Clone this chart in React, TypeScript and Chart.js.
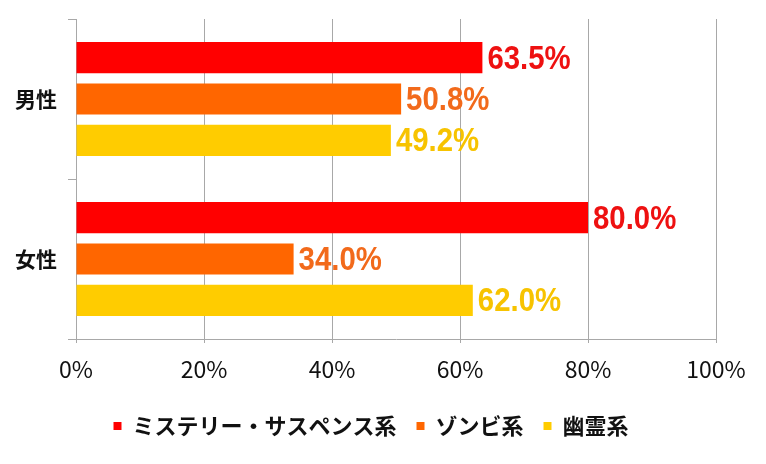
import React, { useEffect, useRef } from "react";
import { Chart, registerables } from "chart.js";
Chart.register(...registerables);

const categories = ["男性", "女性"];
const seriesNames = ["ミステリー・サスペンス系", "ゾンビ系", "幽霊系"];
const mysteryValues = [63.5, 80.0];
const zombieValues = [50.8, 34.0];
const ghostValues = [49.2, 62.0];
const barColors = ["#ff0000", "#ff6600", "#ffcc00"];
const labelColors = ["#ee1111", "#f26a1b", "#f7c300"];
const gridColor = "#a8a8a8";

const valueLabels = {
  id: "valueLabels",
  afterDatasetsDraw(chart: any) {
    const ctx = chart.ctx;
    const sx = 0.89;
    chart.data.datasets.forEach((ds: any, i: number) => {
      const meta = chart.getDatasetMeta(i);
      meta.data.forEach((bar: any, j: number) => {
        const v = ds.data[j] as number;
        ctx.save();
        ctx.font = "bold 33px 'Liberation Sans', Arial, sans-serif";
        ctx.fillStyle = labelColors[i];
        ctx.textAlign = "left";
        ctx.textBaseline = "middle";
        ctx.translate(bar.x + 5, bar.y + 2);
        ctx.scale(sx, 1);
        ctx.fillText(v.toFixed(1) + "%", 0, 0);
        ctx.restore();
      });
    });
  },
};

const legendShift = {
  id: "legendShift",
  afterLayout(chart: any) {
    const lg = chart.legend;
    if (lg) {
      lg.left += 13;
      lg.right += 13;
    }
  },
};

export default function App() {
  const ref = useRef<HTMLCanvasElement>(null);
  useEffect(() => {
    if (!ref.current) return;
    const seriesValues = [mysteryValues, zombieValues, ghostValues];
    const chart = new Chart(ref.current, {
      type: "bar",
      data: {
        labels: categories,
        datasets: seriesNames.map((name, i) => ({
          label: name,
          data: seriesValues[i],
          backgroundColor: barColors[i],
          borderWidth: 0,
          categoryPercentage: 0.774,
          barPercentage: 0.756,
        })),
      },
      options: {
        indexAxis: "y",
        animation: false,
        responsive: false,
        layout: { padding: { top: 19, right: 50, bottom: 17, left: 0 } },
        plugins: {
          tooltip: { enabled: false },
          legend: {
            position: "bottom",
            labels: {
              boxWidth: 8,
              boxHeight: 8,
              padding: 20,
              color: "#111",
              font: { family: "'Noto Sans CJK JP', sans-serif", size: 22, weight: "bold" },
            },
          },
        },
        scales: {
          x: {
            min: 0,
            max: 100,
            ticks: {
              stepSize: 20,
              padding: 12,
              color: "#111",
              font: { family: "'Noto Sans CJK JP', sans-serif", size: 23 },
              callback: (v: any) => v + "%",
            },
            grid: { color: gridColor, tickLength: 4 },
            border: { color: gridColor },
            afterFit: (scale: any) => {
              scale.height = 56;
            },
          },
          y: {
            ticks: {
              padding: 11,
              color: "#111",
              font: { family: "'Noto Sans CJK JP', sans-serif", size: 21, weight: "bold", lineHeight: 0.6 },
            },
            grid: { offset: true, drawOnChartArea: false, color: gridColor, tickLength: 8 },
            border: { color: gridColor },
            afterFit: (scale: any) => {
              scale.width = 76;
            },
          },
        },
      },
      plugins: [valueLabels, legendShift],
    } as any);
    return () => chart.destroy();
  }, []);
  return (
    <div style={{ position: "absolute", left: 0, top: 0, width: 766, height: 464, background: "#fff" }}>
      <canvas ref={ref} width={766} height={464} style={{ display: "block" }} />
    </div>
  );
}
